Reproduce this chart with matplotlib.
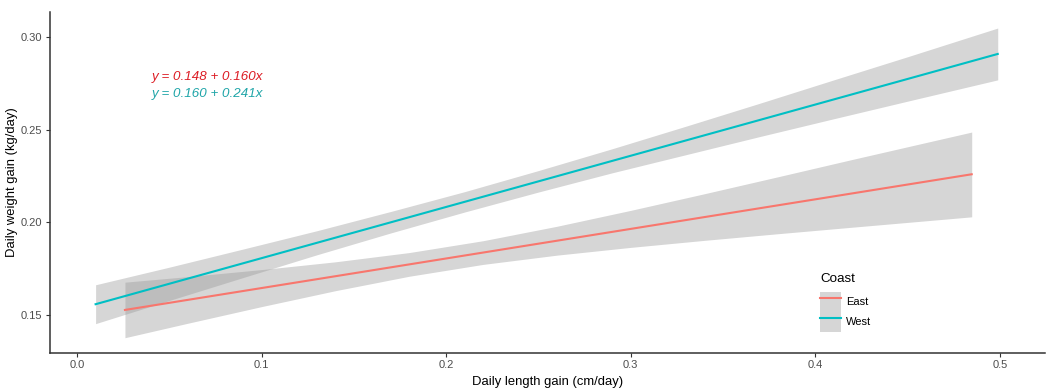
import matplotlib.pyplot as plt
from matplotlib.lines import Line2D
from matplotlib.patches import Patch

plt.rcParams['font.family'] = ['Liberation Sans', 'DejaVu Sans']

# fitted lines (end points)
east_line_x = [0.026, 0.4847]
east_line_y = [0.1527, 0.2260]
west_line_x = [0.0101, 0.4988]
west_line_y = [0.1558, 0.2910]

# confidence bands (edges)
east_band_x = [0.026, 0.06, 0.10, 0.14, 0.18, 0.22, 0.26, 0.30, 0.34, 0.38, 0.42, 0.4847]
east_lower = [0.1377, 0.1455, 0.1545, 0.1631, 0.1709, 0.1773, 0.1823, 0.1865, 0.1903, 0.1939, 0.1974, 0.2030]
east_upper = [0.1677, 0.1707, 0.1745, 0.1787, 0.1837, 0.1901, 0.1979, 0.2065, 0.2155, 0.2247, 0.2340, 0.2488]
west_band_x = [0.0101, 0.05, 0.09, 0.13, 0.17, 0.21, 0.25, 0.29, 0.33, 0.37, 0.41, 0.45, 0.4988]
west_lower = [0.1453, 0.1578, 0.1702, 0.1825, 0.1943, 0.2056, 0.2164, 0.2268, 0.2366, 0.2464, 0.2560, 0.2655, 0.2770]
west_upper = [0.1663, 0.1758, 0.1856, 0.1955, 0.2059, 0.2166, 0.2280, 0.2398, 0.2520, 0.2644, 0.2770, 0.2895, 0.3050]

groups = ['East', 'West']
colors = ['#F8766D', '#00BFC4']
equations = ['y = 0.148 + 0.160x', 'y = 0.160 + 0.241x']
eq_colors = ['#DC1C24', '#1FA5A8']

xticks = [0.0, 0.1, 0.2, 0.3, 0.4, 0.5]
yticks = [0.15, 0.20, 0.25, 0.30]

fig = plt.figure(figsize=(10.49, 3.89), dpi=100)
ax = fig.add_axes([50/1049, 1 - 352.7/389, 995/1049, 340.4/389])

band_col = '#999999'
ax.fill_between(east_band_x, east_lower, east_upper, color=band_col, alpha=0.4, lw=0)
ax.fill_between(west_band_x, west_lower, west_upper, color=band_col, alpha=0.4, lw=0)
ax.plot(east_line_x, east_line_y, color=colors[0], lw=1.5)
ax.plot(west_line_x, west_line_y, color=colors[1], lw=1.5)

ax.text(0.0405, 0.2787, equations[0], color=eq_colors[0], style='italic',
        fontsize=9.6, va='center', ha='left')
ax.text(0.0405, 0.2692, equations[1], color=eq_colors[1], style='italic',
        fontsize=9.6, va='center', ha='left')

ax.set_xlim(-0.0146, 0.5244)
ax.set_ylim(0.1296, 0.3135)
ax.set_xticks(xticks)
ax.set_xticklabels(['0.0', '0.1', '0.2', '0.3', '0.4', '0.5'])
ax.set_yticks(yticks)
ax.set_yticklabels(['0.15', '0.20', '0.25', '0.30'])

for s in ['top', 'right']:
    ax.spines[s].set_visible(False)
for s in ['left', 'bottom']:
    ax.spines[s].set_color('#333333')
    ax.spines[s].set_linewidth(1.1)
ax.tick_params(axis='both', length=3, width=0.8, color='#333333',
               labelcolor='#4D4D4D', labelsize=8, pad=2.5)

ax.set_xlabel('Daily length gain (cm/day)', fontsize=9.4, labelpad=4)
ax.set_ylabel('Daily weight gain (kg/day)', fontsize=9.4, labelpad=2)

# legend: title as its own text, keys below it
fig.text(820/1049, 1 - 279/389, 'Coast', fontsize=9.6, ha='left', va='center')
handles = []
for c in colors:
    handles.append((Patch(facecolor=band_col, alpha=0.4, lw=0),
                    Line2D([], [], color=c, lw=1.5)))
leg = fig.legend(handles, groups, loc='upper left',
                 bbox_to_anchor=(820/1049, 1 - 291.5/389), frameon=False,
                 fontsize=8, labelspacing=0,
                 handlelength=1.85, handleheight=2.4, handletextpad=0.5,
                 borderpad=0, borderaxespad=0)

fig.savefig('out.png', dpi=100)
